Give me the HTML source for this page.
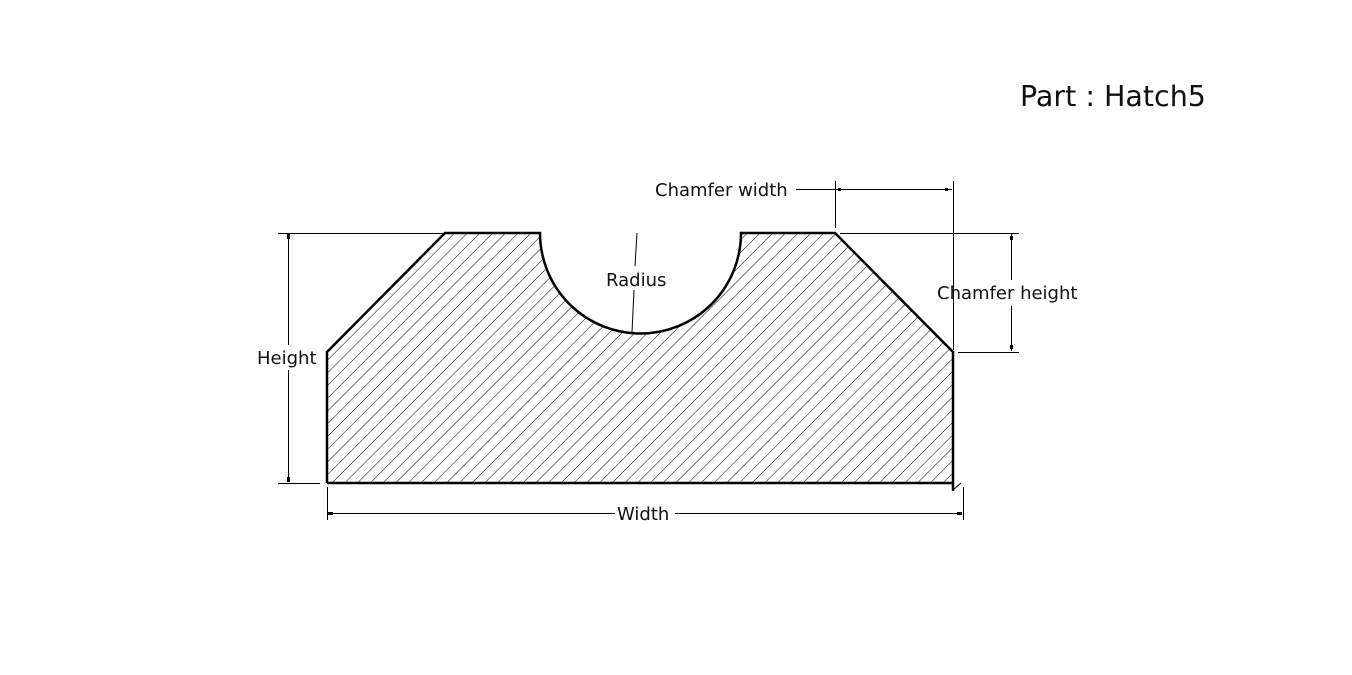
<!DOCTYPE html>
<html><head><style>
html,body{margin:0;padding:0;background:#fff;width:1352px;height:675px;overflow:hidden}
text{font-family:"DejaVu Sans","Liberation Sans",sans-serif;fill:#111}
</style></head><body>
<svg width="1352" height="675" viewBox="0 0 1352 675" xmlns="http://www.w3.org/2000/svg">
<defs>
<pattern id="h" patternUnits="userSpaceOnUse" width="9" height="9" patternTransform="rotate(45)">
<line x1="0" y1="0" x2="0" y2="9" stroke="#000" stroke-width="1"/>
</pattern>
<clipPath id="c"><path d="M327,483 L327,352 L445,233 L540,233 A100,100 0 0 0 741,233 L835,233 L953,352 L953,483 Z"/></clipPath>
</defs>
<text x="1020" y="106" font-size="28.5">Part : Hatch5</text>
<rect x="300" y="220" width="680" height="280" fill="url(#h)" clip-path="url(#c)"/>
<path d="M327,483 L327,352 L445,233 L540,233 A100,100 0 0 0 741,233 L835,233 L953,352 L953,491 M953,483 L327,483" fill="none" stroke="#000" stroke-width="2.5"/>
<line x1="953" y1="490" x2="961" y2="483" stroke="#000" stroke-width="1"/>
<g stroke="#000" stroke-width="1" fill="none">
<line x1="278" y1="233.5" x2="445" y2="233.5"/>
<line x1="278" y1="483.5" x2="320" y2="483.5"/>
<line x1="288.5" y1="234" x2="288.5" y2="345"/>
<line x1="288.5" y1="370" x2="288.5" y2="482"/>
<line x1="327.5" y1="487" x2="327.5" y2="520"/>
<line x1="963.5" y1="487" x2="963.5" y2="520"/>
<line x1="328" y1="513.5" x2="615" y2="513.5"/>
<line x1="675" y1="513.5" x2="962" y2="513.5"/>
<line x1="835.5" y1="181" x2="835.5" y2="228"/>
<line x1="953.5" y1="181" x2="953.5" y2="350"/>
<line x1="796" y1="189.5" x2="952" y2="189.5"/>
<line x1="840" y1="233.5" x2="1019" y2="233.5"/>
<line x1="958" y1="352.5" x2="1019" y2="352.5"/>
<line x1="1011.5" y1="234" x2="1011.5" y2="280"/>
<line x1="1011.5" y1="306" x2="1011.5" y2="351"/>
<line x1="637" y1="233" x2="635" y2="266"/>
<line x1="634" y1="290" x2="632" y2="332"/>
</g>
<g fill="#000">
<rect x="287" y="234" width="3" height="5"/><rect x="287" y="477" width="3" height="5"/>
<rect x="328" y="512" width="5" height="3"/><rect x="957" y="512" width="5" height="3"/>
<rect x="838" y="188" width="3" height="3"/><rect x="945" y="188" width="3" height="3"/>
<rect x="1010" y="236" width="3" height="4"/><rect x="1010" y="345" width="3" height="4"/>
</g>
<text x="257" y="364" font-size="18">Height</text>
<text x="617" y="520" font-size="18">Width</text>
<text x="655" y="196" font-size="18">Chamfer width</text>
<text x="937" y="299" font-size="18">Chamfer height</text>
<text x="606" y="286" font-size="18">Radius</text>
</svg>
</body></html>
